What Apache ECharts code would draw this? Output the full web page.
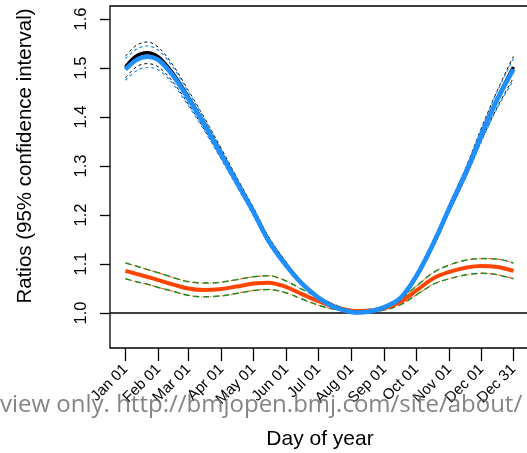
<!DOCTYPE html>
<html><head><meta charset="utf-8">
<script src="https://cdn.jsdelivr.net/npm/echarts@6/dist/echarts.min.js"></script>
<style>html,body{margin:0;padding:0;background:#fff}#c{width:527px;height:453px}</style>
</head><body><div id="c"></div>
<script>
// ---- data ----
const days = [1, 11, 21, 32, 46, 60, 74, 91, 105, 121, 135, 152, 166, 182, 196, 207, 218, 230, 244, 259, 274, 290, 305, 321, 335, 350, 365];

const blackRatio = [1.502, 1.524, 1.531, 1.522, 1.487, 1.44, 1.39, 1.325, 1.27, 1.208, 1.15, 1.098, 1.062, 1.032, 1.014, 1.005, 1.001, 1.003, 1.012, 1.03, 1.075, 1.142, 1.215, 1.29, 1.365, 1.438, 1.502];
const blackUpper = [1.524, 1.546, 1.553, 1.542, 1.504, 1.454, 1.402, 1.335, 1.278, 1.215, 1.156, 1.103, 1.066, 1.035, 1.016, 1.006, 1.0015, 1.004, 1.014, 1.033, 1.08, 1.149, 1.223, 1.30, 1.378, 1.455, 1.524];
const blackLower = [1.48, 1.502, 1.509, 1.502, 1.47, 1.426, 1.378, 1.315, 1.262, 1.201, 1.144, 1.093, 1.058, 1.029, 1.012, 1.004, 1.0005, 1.002, 1.01, 1.027, 1.07, 1.135, 1.207, 1.28, 1.352, 1.421, 1.48];

const blueRatio = [1.497, 1.516, 1.523, 1.516, 1.483, 1.437, 1.388, 1.323, 1.268, 1.206, 1.148, 1.096, 1.061, 1.031, 1.013, 1.005, 1.001, 1.003, 1.012, 1.031, 1.076, 1.143, 1.215, 1.29, 1.363, 1.436, 1.497];
const blueUpper = [1.519, 1.538, 1.545, 1.536, 1.5, 1.451, 1.4, 1.333, 1.276, 1.213, 1.154, 1.101, 1.065, 1.034, 1.015, 1.006, 1.0015, 1.004, 1.014, 1.034, 1.081, 1.15, 1.223, 1.30, 1.376, 1.453, 1.519];
const blueLower = [1.475, 1.494, 1.501, 1.496, 1.466, 1.423, 1.376, 1.313, 1.26, 1.199, 1.142, 1.091, 1.057, 1.028, 1.011, 1.004, 1.0005, 1.002, 1.01, 1.028, 1.071, 1.136, 1.207, 1.28, 1.35, 1.419, 1.475];

const orangeRatio = [1.086, 1.08, 1.074, 1.067, 1.058, 1.05, 1.047, 1.049, 1.054, 1.06, 1.062, 1.053, 1.039, 1.024, 1.013, 1.007, 1.004, 1.005, 1.01, 1.023, 1.046, 1.071, 1.084, 1.093, 1.096, 1.094, 1.086];
const orangeUpper = [1.102, 1.096, 1.089, 1.082, 1.072, 1.064, 1.061, 1.063, 1.068, 1.074, 1.076, 1.065, 1.049, 1.032, 1.018, 1.009, 1.005, 1.007, 1.014, 1.029, 1.055, 1.083, 1.098, 1.108, 1.111, 1.11, 1.102];
const orangeLower = [1.07, 1.064, 1.059, 1.052, 1.044, 1.036, 1.033, 1.035, 1.04, 1.046, 1.048, 1.041, 1.029, 1.016, 1.008, 1.005, 1.003, 1.003, 1.006, 1.017, 1.037, 1.059, 1.07, 1.078, 1.081, 1.078, 1.07];
const greenUpper = orangeUpper;
const greenLower = orangeLower;

const xTickDays = [1, 32, 60, 91, 121, 152, 182, 213, 244, 274, 305, 335, 365];
const xTickLabels = ['Jan 01', 'Feb 01', 'Mar 01', 'Apr 01', 'May 01', 'Jun 01', 'Jul 01', 'Aug 01', 'Sep 01', 'Oct 01', 'Nov 01', 'Dec 01', 'Dec 31'];
const yTicks = [1.0, 1.1, 1.2, 1.3, 1.4, 1.5, 1.6];
const refLine = 1.0;

const xTitle = 'Day of year';
const yTitle = 'Ratios (95% confidence interval)';
const watermark = 'view only. http://bmjopen.bmj.com/site/about/';

// ---- chart ----
const pairs = v => days.map((d, i) => [d, v[i]]);
const FONT = 'Liberation Sans, Arial, sans-serif';

function line(name, vals, color, width, type, z) {
  return {
    name, type: 'line', data: pairs(vals), smooth: 0.35, showSymbol: false, symbol: 'none',
    lineStyle: { color, width, type: type || 'solid' }, z: z, silent: true, animation: false
  };
}

const chart = echarts.init(document.getElementById('c'), null, { renderer: 'canvas' });
chart.setOption({
  animation: false,
  backgroundColor: '#fff',
  grid: { left: 110, top: 6, width: 419, height: 342, show: true, borderColor: '#000', borderWidth: 1.3,
          backgroundColor: 'transparent', containLabel: false, outerBoundsMode: 'none' },
  xAxis: {
    type: 'value', min: -13.56, max: 379.56,
    axisLine: { show: false, onZero: false },
    splitLine: { show: false },
    axisTick: { show: true, inside: false, length: 13, customValues: xTickDays, lineStyle: { color: '#000', width: 1.3 } },
    axisLabel: {
      customValues: xTickDays, rotate: 45, margin: 19, color: '#000', fontFamily: FONT, fontSize: 15,
      formatter: v => xTickLabels[xTickDays.indexOf(Math.round(v))] || ''
    }
  },
  yAxis: {
    type: 'value', min: 0.9286, max: 1.6265,
    axisLine: { show: false, onZero: false },
    splitLine: { show: false },
    axisTick: { show: true, inside: false, length: 10, customValues: yTicks, lineStyle: { color: '#000', width: 1.3 } },
    axisLabel: {
      customValues: yTicks, rotate: 90, margin: 20, color: '#000', fontFamily: FONT, fontSize: 16.5,
      formatter: v => v.toFixed(1)
    }
  },
  series: [
    line('orange upper', orangeUpper, '#FF4500', 1, [4, 2, 1, 2], 2),
    line('orange lower', orangeLower, '#FF4500', 1, [4, 2, 1, 2], 2),
    line('green upper', greenUpper, '#228B22', 1.5, [6, 4], 3),
    line('green lower', greenLower, '#228B22', 1.5, [6, 4], 3),
    Object.assign(line('orange', orangeRatio, '#FF4500', 4, 'solid', 4), {
      markLine: { silent: true, symbol: 'none', label: { show: false }, animation: false,
        lineStyle: { color: '#000', width: 1.5, type: 'solid' }, data: [{ yAxis: refLine }] }
    }),
    line('black upper', blackUpper, '#000', 1, [3, 3], 5),
    line('black lower', blackLower, '#000', 1, [3, 3], 5),
    line('black', blackRatio, '#000', 3.5, 'solid', 6),
    line('blue upper', blueUpper, '#1E90FF', 1.2, [3, 3], 7),
    line('blue lower', blueLower, '#1E90FF', 1.2, [3, 3], 7),
    line('blue', blueRatio, '#1E90FF', 4.5, 'solid', 8)
  ],
  graphic: [
    { type: 'text', x: 320, y: 439, style: { text: xTitle, font: '21px ' + FONT, fill: '#000', align: 'center', verticalAlign: 'middle' } },
    { type: 'text', x: 25, y: 156, rotation: Math.PI / 2, style: { text: yTitle, font: '20.5px ' + FONT, fill: '#000', align: 'center', verticalAlign: 'middle' } },
    { type: 'text', x: 0, y: 393, z: 100, style: { text: watermark, font: '24px "Open Sans", sans-serif', fill: 'rgba(110,110,110,0.85)', align: 'left', verticalAlign: 'alphabetic' } }
  ]
});
</script>
</body></html>
